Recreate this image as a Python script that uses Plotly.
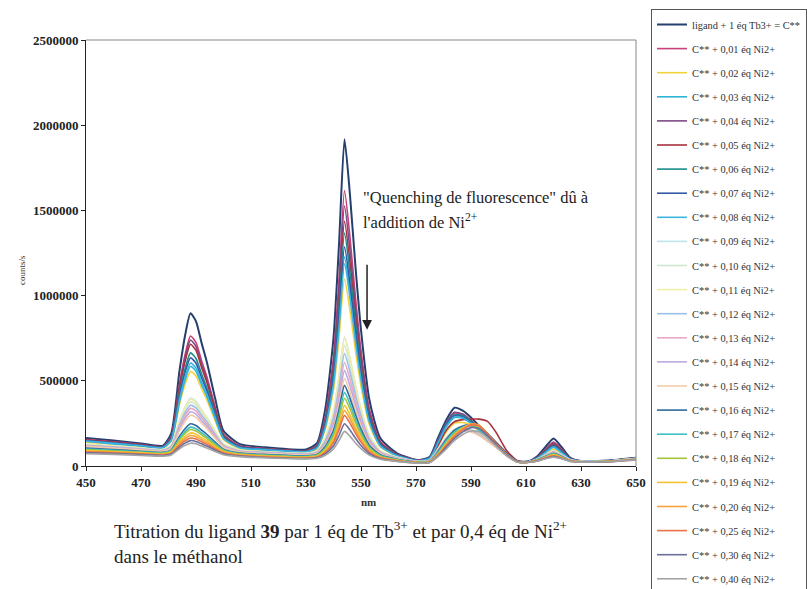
import plotly.graph_objects as go

# Wavelengths (nm)
wavelengths = [450, 460, 470, 478, 481, 484, 486, 488, 490, 492, 494, 497, 500,
               506, 515, 530, 534, 537, 540, 542, 544, 546, 548, 550, 553, 557, 563,
               571, 575, 578, 581, 584, 587, 590, 593, 596, 599, 603, 607,
               611, 614, 617, 620, 623, 626, 630, 640, 650]

series_names = [
    "ligand + 1 éq Tb3+ = C**",
    "C** + 0,01 éq Ni2+", "C** + 0,02 éq Ni2+", "C** + 0,03 éq Ni2+",
    "C** + 0,04 éq Ni2+", "C** + 0,05 éq Ni2+", "C** + 0,06 éq Ni2+",
    "C** + 0,07 éq Ni2+", "C** + 0,08 éq Ni2+", "C** + 0,09 éq Ni2+",
    "C** + 0,10 éq Ni2+", "C** + 0,11 éq Ni2+", "C** + 0,12 éq Ni2+",
    "C** + 0,13 éq Ni2+", "C** + 0,14 éq Ni2+", "C** + 0,15 éq Ni2+",
    "C** + 0,16 éq Ni2+", "C** + 0,17 éq Ni2+", "C** + 0,18 éq Ni2+",
    "C** + 0,19 éq Ni2+", "C** + 0,20 éq Ni2+", "C** + 0,25 éq Ni2+",
    "C** + 0,30 éq Ni2+", "C** + 0,40 éq Ni2+",
]

series_colors = [
    "#253f6e", "#c8407a", "#f2d23c", "#2fb5d6", "#7d4a86", "#a8323e",
    "#1e8c8c", "#3459a8", "#3db3e0", "#bfe3ea", "#cfe8cf", "#f0eda8",
    "#9cc0e6", "#e8a9c6", "#bfa8e0", "#f2cca8", "#2f6a9a", "#3cc0c4",
    "#a2c43a", "#f4c230", "#f4a23a", "#e8704a", "#6a6e99", "#a4a4a4",
]

# Intensities in thousands of counts/s
s_ligand = [165,150,132,120, 191,559,763,896,849,724,606,394,206, 128,110,97, 134,334,752,1299,1918,1589,1167,799,392,164,76, 35, 55,165,270,342,325,285,235,190,140,75,28, 28,55,110,162,110,50,30, 32,48]
s_001 = [155,142,126,115, 174,482,652,763,724,619,521,344,187, 118,103,90, 121,289,639,1097,1616,1341,987,678,337,145,69, 33, 50,150,250,310,300,265,220,180,135,72,27, 25,50,96,140,96,45,29, 31,46]
s_002 = [140,128,115,105, 146,360,478,555,528,455,387,264,155, 102,92,82, 102,214,446,752,1097,913,677,471,243,113,59, 30, 40,120,200,250,255,240,205,165,125,68,26, 25,42,72,100,72,39,28, 30,44]
s_003 = [145,130,118,108, 151,378,503,585,556,479,407,277,161, 107,95,85, 108,234,495,838,1227,1020,755,524,267,121,62, 31, 45,135,230,285,280,250,210,170,130,70,26, 25,44,78,110,78,40,28, 30,45]
s_004 = [150,138,122,112, 169,466,631,739,701,599,504,334,182, 115,100,88, 117,275,605,1037,1526,1266,933,641,320,138,67, 32, 50,150,255,315,305,268,222,180,135,72,27, 25,49,93,135,93,45,29, 31,46]
s_005 = [152,140,124,113, 168,453,611,714,678,580,489,325,180, 114,101,89, 116,265,573,978,1436,1193,880,607,306,135,67, 32, 40,120,210,260,272,275,275,262,200,90,30, 25,48,89,128,89,44,29, 31,46]
s_006 = [148,135,120,110, 160,424,569,664,631,541,457,306,172, 112,98,86, 112,253,546,930,1367,1135,838,578,291,129,65, 31, 48,145,245,300,295,262,218,176,133,71,27, 25,46,85,122,85,42,29, 31,46]
s_007 = [150,136,121,111, 159,407,545,635,603,518,439,296,169, 111,98,86, 110,243,517,878,1287,1069,790,547,278,125,64, 31, 47,140,240,295,288,256,214,173,131,70,26, 25,45,83,118,83,42,29, 31,45]
s_008 = [146,133,119,108, 153,389,520,605,575,495,419,284,163, 107,96,84, 106,228,480,811,1187,987,731,507,259,118,61, 30, 45,135,232,288,282,252,210,170,129,69,26, 25,44,79,112,79,41,28, 30,45]
s_009 = [128,118,106,97, 124,267,345,397,379,330,285,203,130, 94,84,75, 89,164,321,525,757,633,474,335,180,90,52, 27, 35,100,170,215,225,215,190,155,118,64,24, 24,39,65,90,65,36,27, 29,43]
s_010 = [125,115,104,95, 121,255,329,377,360,314,272,195,126, 91,82,73, 86,156,301,491,707,591,444,314,170,87,50, 26, 34,98,165,210,220,212,187,152,116,63,24, 24,38,63,87,63,35,27, 29,43]
s_011 = [127,117,105,96, 123,263,341,392,374,326,281,201,129, 92,83,74, 88,163,319,523,754,630,472,333,179,90,51, 26, 34,98,166,212,222,213,188,153,117,63,24, 24,38,64,88,64,35,27, 29,43]
s_012 = [122,112,101,92, 116,242,312,357,341,298,258,186,121, 88,80,71, 83,148,283,460,660,552,415,295,161,83,49, 26, 33,95,160,205,215,208,184,150,114,62,23, 24,37,61,84,61,34,27, 29,42]
s_013 = [120,110,99,90, 113,230,295,338,323,283,245,178,118, 86,78,69, 80,139,263,424,607,510,383,273,151,79,46, 25, 32,93,157,200,212,205,182,148,113,61,23, 24,37,60,82,60,34,26, 28,42]
s_014 = [118,108,97,88, 109,218,278,318,304,267,232,169,114, 84,76,67, 77,131,245,392,560,471,355,253,141,75,45, 25, 31,90,153,196,208,202,180,146,112,61,23, 24,36,59,80,59,33,26, 28,42]
s_015 = [115,105,95,86, 105,206,261,298,285,251,219,161,110, 82,74,65, 74,124,226,361,513,432,326,235,132,72,44, 24, 30,88,150,192,205,200,178,145,111,60,23, 24,36,57,78,57,33,26, 28,41]
s_016 = [105,96,87,80, 95,175,219,248,238,211,185,140,99, 76,68,60, 68,114,208,332,473,397,301,216,122,66,40, 23, 28,85,155,210,235,240,215,172,125,65,24, 23,35,56,75,56,32,25, 27,40]
s_017 = [100,92,84,77, 91,163,202,228,219,195,172,131,94, 73,65,57, 65,106,192,304,432,363,275,198,112,62,38, 22, 27,80,148,200,228,235,212,170,124,64,24, 23,34,54,72,54,31,25, 27,40]
s_018 = [95,88,80,74, 87,153,190,214,205,183,161,123,90, 70,62,54, 61,99,178,280,398,335,254,184,105,58,35, 21, 25,72,135,190,225,240,225,180,128,65,24, 23,33,51,68,51,31,25, 27,39]
s_019 = [90,84,77,71, 82,140,173,194,186,166,148,114,85, 67,59,51, 57,91,161,252,356,300,228,166,95,53,34, 20, 24,70,130,185,222,245,232,185,130,66,24, 22,32,50,65,50,30,24, 26,39]
s_020 = [85,80,73,68, 78,131,160,179,172,154,137,106,80, 64,56,48, 54,84,148,232,326,276,210,152,89,50,32, 20, 23,66,125,180,220,248,240,190,133,67,24, 22,31,48,62,48,30,24, 26,38]
s_025 = [82,77,70,65, 74,121,147,164,158,142,127,99,76, 61,53,46, 51,79,136,212,297,251,192,140,82,48,31, 19, 22,62,118,172,212,240,235,188,132,66,24, 22,30,47,60,47,29,24, 26,38]
s_030 = [78,73,67,62, 70,111,134,149,144,130,117,93,72, 58,50,44, 48,71,117,179,248,211,163,120,72,43,28, 18, 21,58,110,162,200,225,220,178,126,64,23, 22,29,44,56,44,28,23, 25,37]
s_040 = [72,68,62,58, 65,101,121,134,130,117,106,85,66, 55,48,42, 45,63,100,149,203,174,135,102,64,40,27, 17, 20,55,100,150,185,205,200,165,118,60,22, 21,28,42,52,42,27,23, 25,36]

series_values = [s_ligand, s_001, s_002, s_003, s_004, s_005, s_006, s_007,
                 s_008, s_009, s_010, s_011, s_012, s_013, s_014, s_015,
                 s_016, s_017, s_018, s_019, s_020, s_025, s_030, s_040]

y_ticks = [0, 500000, 1000000, 1500000, 2000000, 2500000]
x_ticks = [450, 470, 490, 510, 530, 550, 570, 590, 610, 630, 650]

SERIF = "Liberation Serif"

fig = go.Figure()
for i, (name, vals, col) in enumerate(zip(series_names, series_values, series_colors)):
    fig.add_trace(go.Scatter(
        x=wavelengths, y=[v * 1000 for v in vals], name=name, mode="lines",
        line=dict(color=col, width=2.0 if i == 0 else 1.6, shape="spline", smoothing=0.6),
        legendgroup=f"g{i}",
    ))

W, H = 807, 589
L, R, T, B = 86, 636, 40, 466
pw, ph = R - L, B - T


def px(xp):
    return (xp - L) / pw


def py(yp):
    return (B - yp) / ph


fig.update_layout(
    width=W, height=H,
    margin=dict(l=L, r=W - R, t=T, b=H - B, autoexpand=False),
    paper_bgcolor="white", plot_bgcolor="white",
    font=dict(family=SERIF, color="#222"),
    showlegend=True,
    legend=dict(
        x=px(651), y=py(9), xanchor="left", yanchor="top",
        bordercolor="#555", borderwidth=1, bgcolor="white",
        font=dict(family=SERIF, size=10.4, color="#333"),
        tracegroupgap=5.1, traceorder="grouped", maxheight=900,
    ),
    xaxis=dict(
        range=[450, 650], tickvals=x_ticks, ticktext=[str(v) for v in x_ticks],
        showgrid=False, zeroline=False, showline=True, linecolor="#222", linewidth=1,
        ticks="outside", ticklen=4, tickcolor="#222",
        tickfont=dict(family=SERIF, size=13, color="#222", weight="bold"),
    ),
    yaxis=dict(
        range=[0, 2500000], tickvals=y_ticks, ticktext=[str(v) for v in y_ticks],
        showgrid=False, zeroline=False, showline=True, linecolor="#222", linewidth=1,
        ticks="outside", ticklen=4, tickcolor="#222",
        tickfont=dict(family=SERIF, size=13, color="#222", weight="bold"),
    ),
    shapes=[
        dict(type="line", xref="paper", yref="paper", x0=0, x1=1, y0=1, y1=1,
             line=dict(color="#888", width=1)),
        dict(type="line", xref="paper", yref="paper", x0=1, x1=1, y0=0, y1=1,
             line=dict(color="#888", width=1)),
    ],
    annotations=[
        dict(text="nm", xref="paper", yref="paper", x=px(368), y=py(510),
             showarrow=False, font=dict(family=SERIF, size=11, color="#333", weight="bold")),
        dict(text="counts/s", xref="paper", yref="paper", x=px(15), y=py(270),
             textangle=-90, showarrow=False, font=dict(family=SERIF, size=9, color="#333")),
        dict(text="Titration du ligand <b>39</b> par 1 éq de Tb<sup>3+</sup> et par 0,4 éq de Ni<sup>2+</sup>",
             xref="paper", yref="paper", x=px(112), y=py(530), xanchor="left", yanchor="middle",
             showarrow=False, font=dict(family=SERIF, size=19, color="#222")),
        dict(text="dans le méthanol", xref="paper", yref="paper", x=px(112), y=py(556),
             xanchor="left", yanchor="middle", showarrow=False,
             font=dict(family=SERIF, size=19, color="#222")),
        dict(text="\"Quenching de fluorescence\" dû à", xref="paper", yref="paper",
             x=px(361), y=py(197), xanchor="left", yanchor="middle", showarrow=False,
             font=dict(family=SERIF, size=16.5, color="#222")),
        dict(text="l'addition de Ni<sup>2+</sup>", xref="paper", yref="paper",
             x=px(361), y=py(222), xanchor="left", yanchor="middle", showarrow=False,
             font=dict(family=SERIF, size=16.5, color="#222")),
        dict(x=552.2, y=800000, ax=552.2, ay=1190000, xref="x", yref="y", axref="x", ayref="y",
             text="", showarrow=True, arrowhead=2, arrowsize=1.3, arrowwidth=1.5,
             arrowcolor="#222"),
    ],
)

fig.write_html("out.html", config={"displayModeBar": False},
               post_script="document.body.style.margin='0px';document.body.style.overflow='hidden';")
